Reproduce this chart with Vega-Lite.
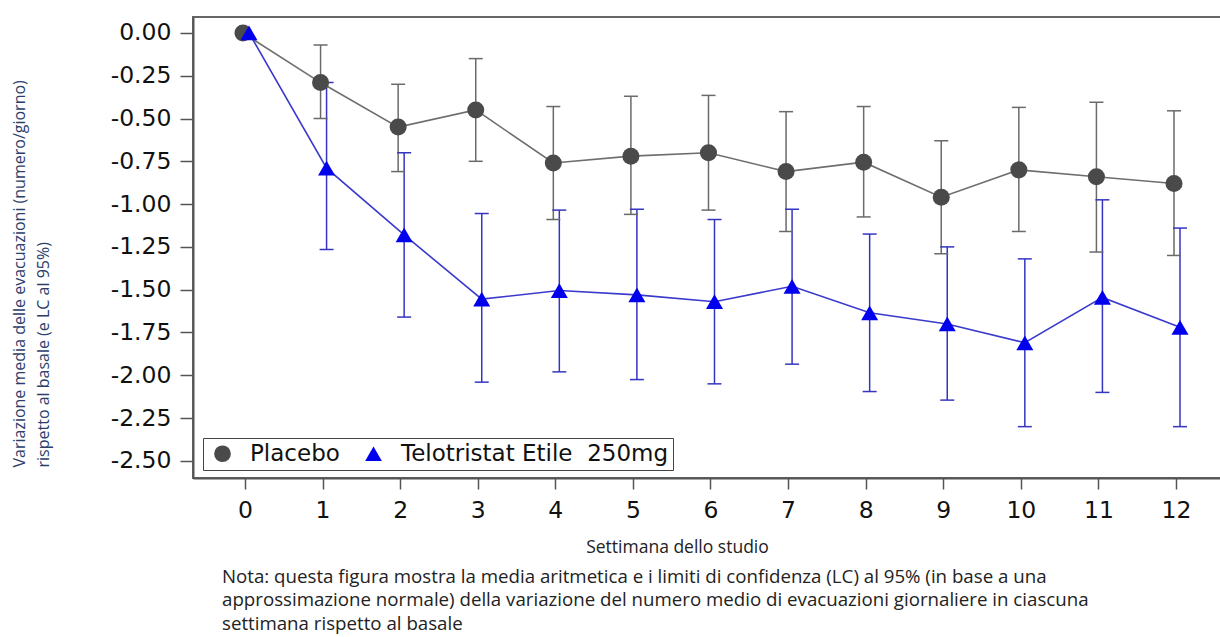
{
  "$schema": "https://vega.github.io/schema/vega-lite/v6.json",
  "autosize": {"type": "none"},
  "padding": {"left": 193, "top": 17, "right": 0, "bottom": 159},
  "width": 1028,
  "height": 461,
  "background": "white",
  "title": {
    "text": [
      "Nota: questa figura mostra la media aritmetica e i limiti di confidenza (LC) al 95% (in base a una",
      "approssimazione normale) della variazione del numero medio di evacuazioni giornaliere in ciascuna",
      "settimana rispetto al basale"
    ],
    "orient": "bottom",
    "anchor": "start",
    "frame": "group",
    "dx": 29,
    "offset": 12,
    "font": "Open Sans",
    "fontSize": 18.7,
    "fontWeight": "normal",
    "lineHeight": 23.5,
    "color": "#222"
  },
  "config": {
    "view": {"stroke": "#666", "strokeWidth": 2},
    "axis": {
      "grid": false,
      "domainColor": "#555",
      "domainWidth": 2,
      "tickColor": "#555",
      "tickWidth": 1.5,
      "labelFont": "DejaVu Sans",
      "labelFontSize": 23.5,
      "labelColor": "#111"
    }
  },
  "data": {
    "values": [
      {"week": 0, "group": "Placebo", "mean": 0, "lo": null, "hi": null},
      {"week": 1, "group": "Placebo", "mean": -0.29, "lo": -0.50, "hi": -0.07},
      {"week": 2, "group": "Placebo", "mean": -0.55, "lo": -0.81, "hi": -0.30},
      {"week": 3, "group": "Placebo", "mean": -0.45, "lo": -0.75, "hi": -0.15},
      {"week": 4, "group": "Placebo", "mean": -0.76, "lo": -1.09, "hi": -0.43},
      {"week": 5, "group": "Placebo", "mean": -0.72, "lo": -1.06, "hi": -0.37},
      {"week": 6, "group": "Placebo", "mean": -0.70, "lo": -1.035, "hi": -0.365},
      {"week": 7, "group": "Placebo", "mean": -0.81, "lo": -1.16, "hi": -0.46},
      {"week": 8, "group": "Placebo", "mean": -0.755, "lo": -1.075, "hi": -0.43},
      {"week": 9, "group": "Placebo", "mean": -0.96, "lo": -1.29, "hi": -0.63},
      {"week": 10, "group": "Placebo", "mean": -0.80, "lo": -1.16, "hi": -0.435},
      {"week": 11, "group": "Placebo", "mean": -0.84, "lo": -1.28, "hi": -0.405},
      {"week": 12, "group": "Placebo", "mean": -0.88, "lo": -1.30, "hi": -0.455},
      {"week": 0, "group": "Telotristat Etile\u00a0 250mg", "mean": 0, "lo": null, "hi": null},
      {"week": 1, "group": "Telotristat Etile\u00a0 250mg", "mean": -0.79, "lo": -1.265, "hi": -0.29},
      {"week": 2, "group": "Telotristat Etile\u00a0 250mg", "mean": -1.18, "lo": -1.66, "hi": -0.70},
      {"week": 3, "group": "Telotristat Etile\u00a0 250mg", "mean": -1.555, "lo": -2.04, "hi": -1.055},
      {"week": 4, "group": "Telotristat Etile\u00a0 250mg", "mean": -1.505, "lo": -1.98, "hi": -1.035},
      {"week": 5, "group": "Telotristat Etile\u00a0 250mg", "mean": -1.53, "lo": -2.025, "hi": -1.03},
      {"week": 6, "group": "Telotristat Etile\u00a0 250mg", "mean": -1.57, "lo": -2.05, "hi": -1.09},
      {"week": 7, "group": "Telotristat Etile\u00a0 250mg", "mean": -1.48, "lo": -1.935, "hi": -1.03},
      {"week": 8, "group": "Telotristat Etile\u00a0 250mg", "mean": -1.635, "lo": -2.095, "hi": -1.175},
      {"week": 9, "group": "Telotristat Etile\u00a0 250mg", "mean": -1.70, "lo": -2.145, "hi": -1.25},
      {"week": 10, "group": "Telotristat Etile\u00a0 250mg", "mean": -1.81, "lo": -2.30, "hi": -1.32},
      {"week": 11, "group": "Telotristat Etile\u00a0 250mg", "mean": -1.545, "lo": -2.10, "hi": -0.975},
      {"week": 12, "group": "Telotristat Etile\u00a0 250mg", "mean": -1.72, "lo": -2.30, "hi": -1.14}
    ]
  },
  "encoding": {
    "x": {
      "field": "week",
      "type": "quantitative",
      "scale": {"domain": [-0.67, 12.58], "nice": false, "zero": false},
      "axis": {
        "values": [0, 1, 2, 3, 4, 5, 6, 7, 8, 9, 10, 11, 12],
        "format": "d",
        "tickSize": 11,
        "labelPadding": 9,
        "title": "Settimana dello studio",
        "titleFont": "Open Sans",
        "titleFontSize": 17.5,
        "titleFontWeight": "normal",
        "titleColor": "#222",
        "titleX": 484,
        "titleY": 69,
        "titleBaseline": "middle",
        "titleAlign": "center"
      }
    }
  },
  "layer": [
    {
      "transform": [{"filter": "isValid(datum.lo)"}],
      "mark": {"type": "rule", "strokeWidth": 1.5, "xOffset": {"expr": "datum.group === 'Placebo' ? -2 : 4"}, "stroke": {"expr": "datum.group === 'Placebo' ? '#6a6a6a' : '#3535c0'"}},
      "encoding": {
        "y": {"field": "lo", "type": "quantitative"},
        "y2": {"field": "hi"}
      }
    },
    {
      "transform": [{"filter": "isValid(datum.lo)"}],
      "mark": {"type": "tick", "orient": "horizontal", "size": 14, "thickness": 1.5, "opacity": 1, "xOffset": {"expr": "datum.group === 'Placebo' ? -2 : 4"}, "color": {"expr": "datum.group === 'Placebo' ? '#6a6a6a' : '#3535c0'"}},
      "encoding": {
        "y": {"field": "lo", "type": "quantitative"}
      }
    },
    {
      "transform": [{"filter": "isValid(datum.hi)"}],
      "mark": {"type": "tick", "orient": "horizontal", "size": 14, "thickness": 1.5, "opacity": 1, "xOffset": {"expr": "datum.group === 'Placebo' ? -2 : 4"}, "color": {"expr": "datum.group === 'Placebo' ? '#6a6a6a' : '#3535c0'"}},
      "encoding": {
        "y": {"field": "hi", "type": "quantitative"}
      }
    },
    {
      "mark": {"type": "line", "strokeWidth": 1.6, "xOffset": {"expr": "datum.group === 'Placebo' ? -2 : 4"}, "stroke": {"expr": "datum.group === 'Placebo' ? '#6e6e6e' : '#3a3acc'"}},
      "encoding": {
        "y": {"field": "mean", "type": "quantitative"},
        "detail": {"field": "group"}
      }
    },
    {
      "mark": {"type": "point", "filled": true, "opacity": 1, "size": 290, "xOffset": {"expr": "datum.group === 'Placebo' ? -2 : 4"}},
      "encoding": {
        "y": {
          "field": "mean",
          "type": "quantitative",
          "scale": {"domain": [-2.6, 0.093], "nice": false, "zero": false},
          "axis": {
            "values": [0, -0.25, -0.5, -0.75, -1, -1.25, -1.5, -1.75, -2, -2.25, -2.5],
            "labelExpr": "replace(format(datum.value, '.2f'), '\u2212', '-')",
            "tickSize": 13,
            "labelPadding": 9,
            "title": ["Variazione media delle evacuazioni (numero/giorno)", "rispetto al basale (e LC al 95%)"],
            "titleFont": "Open Sans",
            "titleFontSize": 16,
            "titleFontWeight": "normal",
            "titleColor": "#2b3d6b",
            "titleAngle": -90,
            "titleAlign": "left",
            "titleBaseline": "top",
            "titleLineHeight": 24,
            "titleX": -182,
            "titleY": 450
          }
        },
        "color": {
          "field": "group",
          "type": "nominal",
          "scale": {"domain": ["Placebo", "Telotristat Etile\u00a0 250mg"], "range": ["#4a4a4a", "#0000ee"]},
          "legend": {
            "title": null,
            "orient": "none",
            "direction": "horizontal",
            "legendX": 10,
            "legendY": 421,
            "padding": 4,
            "fillColor": "white",
            "strokeColor": "#444",
            "labelFont": "DejaVu Sans",
            "labelFontSize": 23,
            "labelColor": "#111",
            "labelLimit": 500,
            "labelOffset": 16,
            "columnPadding": 18,
            "symbolSize": 280,
            "symbolOffset": 4,
            "symbolStrokeWidth": 0
          }
        },
        "shape": {
          "field": "group",
          "type": "nominal",
          "scale": {"domain": ["Placebo", "Telotristat Etile\u00a0 250mg"], "range": ["circle", "triangle-up"]}
        }
      }
    }
  ]
}
